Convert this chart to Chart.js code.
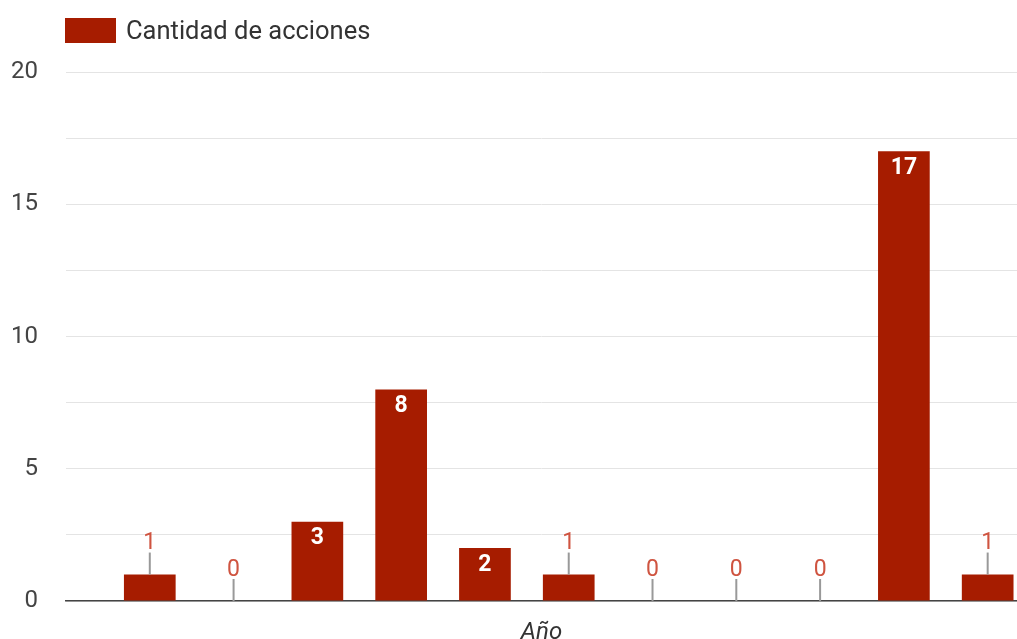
<!DOCTYPE html>
<html>
<head>
<meta charset="utf-8">
<script src="https://cdn.jsdelivr.net/npm/chart.js@4"></script>
<style>
  body { margin: 0; background: #fff; }
  #wrap { width: 1017px; height: 639px; position: relative; }
</style>
</head>
<body>
<div id="wrap"><canvas id="myBarChart"></canvas></div>
<script>
// slot of each bar on the x axis (year labels are not shown in the chart)
var slots = [1, 2, 3, 4, 5, 6, 7, 8, 9, 10, 11];
var acciones = [1, 0, 3, 8, 2, 1, 0, 0, 0, 17, 1];
var yTicks = [0, 5, 10, 15, 20];
var seriesName = 'Cantidad de acciones';
var axisTitle = 'Año';

var barColor = '#a61c00';

// legend drawn like the google chart one, top left
var legendBox = {
    id: 'legendBox',
    afterDraw: function (chart) {
        var ctx = chart.ctx;
        ctx.save();
        ctx.fillStyle = barColor;
        ctx.fillRect(65, 18, 51, 25);
        ctx.fillStyle = '#333';
        ctx.font = '25.5px Roboto';
        ctx.textAlign = 'left';
        ctx.textBaseline = 'middle';
        ctx.fillText(chart.data.datasets[0].label, 126, 33);
        ctx.restore();
    }
};

// value labels: inside the bar when it is tall enough, else above with a stem
var barLabels = {
    id: 'barLabels',
    afterDatasetsDraw: function (chart) {
        var ctx = chart.ctx;
        var meta = chart.getDatasetMeta(0);
        ctx.save();
        ctx.textAlign = 'center';
        ctx.textBaseline = 'middle';
        meta.data.forEach(function (bar, i) {
            var v = acciones[i];
            if (v >= 2) {
                ctx.fillStyle = '#fff';
                ctx.font = 'bold 23px Roboto';
                ctx.fillText(String(v), bar.x, bar.y + 17);
            } else {
                ctx.strokeStyle = '#999';
                ctx.lineWidth = 2;
                ctx.beginPath();
                ctx.moveTo(bar.x, bar.y);
                ctx.lineTo(bar.x, bar.y - 22);
                ctx.stroke();
                ctx.fillStyle = '#cf5440';
                ctx.font = '23px Roboto';
                ctx.fillText(String(v), bar.x, bar.y - 31);
            }
        });
        ctx.restore();
    }
};

var chart = document.getElementById('myBarChart').getContext('2d');
var myChart = new Chart(chart, {
    type: 'bar',
    data: {
        datasets: [{
            label: seriesName,
            data: slots.map(function (s, i) { return { x: s, y: acciones[i] }; }),
            backgroundColor: barColor,
            borderWidth: 0,
            barPercentage: 0.617,
            categoryPercentage: 1
        }]
    },
    options: {
        responsive: true,
        maintainAspectRatio: false,
        animation: false,
        devicePixelRatio: 1,
        layout: {
            padding: { top: 72, left: 0, right: 0, bottom: 0 }
        },
        plugins: {
            legend: { display: false },
            tooltip: { enabled: false }
        },
        scales: {
            x: {
                type: 'linear',
                min: 0,
                max: 11.35,
                offset: false,
                grid: { display: false, drawTicks: false },
                border: { display: true, color: '#444', width: 1.5 },
                ticks: { display: false },
                title: {
                    display: true,
                    text: axisTitle,
                    color: '#333',
                    font: { family: 'Roboto', size: 24, style: 'italic', lineHeight: 0.5 },
                    padding: { top: 26, bottom: 0 }
                }
            },
            y: {
                min: 0,
                max: 20,
                afterFit: function (scale) { scale.width = 66; },
                border: { display: false },
                grid: { color: '#e4e4e4', lineWidth: 1, drawTicks: true, tickLength: 28, tickColor: 'rgba(0,0,0,0)' },
                ticks: {
                    stepSize: 2.5,
                    padding: 0,
                    color: '#444',
                    font: { family: 'Roboto', size: 24 },
                    callback: function (value) {
                        return yTicks.indexOf(value) >= 0 ? String(value) : '';
                    }
                }
            }
        }
    },
    plugins: [legendBox, barLabels]
});
</script>
</body>
</html>
